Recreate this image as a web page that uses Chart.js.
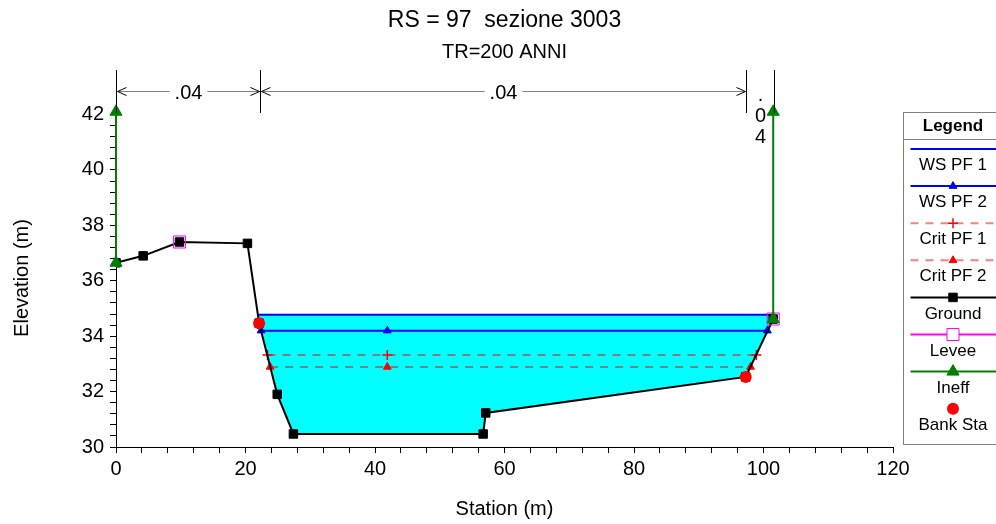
<!DOCTYPE html>
<html><head><meta charset="utf-8">
<script src="https://cdn.jsdelivr.net/npm/chart.js@4.4.0/dist/chart.umd.min.js"></script>
<style>html,body{margin:0;padding:0;background:#fff;}#wrap{width:996px;height:524px;position:relative;}</style>
</head><body><div id="wrap"><canvas id="c" width="996" height="524"></canvas></div>
<script>
// ---------------- data ----------------
const titleText = 'RS = 97  sezione 3003';
const subtitleText = 'TR=200 ANNI';
const xAxisTitle = 'Station (m)';
const yAxisTitle = 'Elevation (m)';

const groundStation = [0, 4.2, 9.8, 20.3, 22.1, 24.9, 27.4, 56.7, 57.1, 97.25, 101.5];
const groundElev    = [36.65, 36.9, 37.4, 37.35, 34.47, 31.9, 30.47, 30.47, 31.23, 32.53, 34.62];

const ws1Station = [21.85, 101.5];
const ws1Elev    = [34.77, 34.77];
const ws2Station = [22.4, 41.9, 100.6];
const ws2Elev    = [34.2, 34.2, 34.2];
const crit1Station = [23.4, 41.9, 98.9];
const crit1Elev    = [33.32, 33.32, 33.32];
const crit2Station = [23.8, 41.9, 98.0];
const crit2Elev    = [32.89, 32.89, 32.89];
const leveeStation = [9.8, 101.5];
const leveeElev    = [37.4, 34.62];
const ineffStation = [0, 0, 50, 101.5, 101.5];
const ineffElev    = [36.65, 42.1, null, 34.62, 42.1];
const bankStation  = [22.1, 97.25];
const bankElev     = [34.47, 32.53];

const nStations = [0, 22.2, 97.3, 101.6];
const nValues   = ['.04', '.04', '.04'];

const xTickLabels = [0, 20, 40, 60, 80, 100, 120];
const yTickLabels = [30, 32, 34, 36, 38, 40, 42];

// ---------------- helpers ----------------
const pts = (xs, ys) => xs.map((x, i) => ({x: x, y: ys[i]}));
const FONT = "'Liberation Sans', Arial, Helvetica, sans-serif";
Chart.defaults.font.family = FONT;
Chart.defaults.color = '#000';

const CRIT_COLOR = 'rgba(255,0,0,0.5)';

const datasets = [
  {label: 'WS PF 1', data: pts(ws1Station, ws1Elev), borderColor: '#0000ff', borderWidth: 2,
   pointRadius: 0, fill: {target: 4, above: '#00ffff', below: '#00ffff'}, backgroundColor: '#00ffff', order: 8},
  {label: 'WS PF 2', data: pts(ws2Station, ws2Elev), borderColor: '#0000ff', borderWidth: 2,
   pointStyle: 'triangle', pointRadius: 4.5, pointBackgroundColor: '#0000ff', pointBorderColor: '#0000ff', pointBorderWidth: 1, order: 7},
  {label: 'Crit PF 1', data: pts(crit1Station, crit1Elev), borderColor: CRIT_COLOR, borderWidth: 2, borderDash: [8, 7],
   pointStyle: 'cross', pointRadius: 5, pointBorderColor: '#ff0000', pointBackgroundColor: '#ff0000', pointBorderWidth: 1.5, order: 6},
  {label: 'Crit PF 2', data: pts(crit2Station, crit2Elev), borderColor: CRIT_COLOR, borderWidth: 2, borderDash: [8, 7],
   pointStyle: 'triangle', pointRadius: 4.5, pointBorderColor: '#ff0000', pointBackgroundColor: '#ff0000', pointBorderWidth: 1, order: 5},
  {label: 'Ground', data: pts(groundStation, groundElev), borderColor: '#000', borderWidth: 2,
   pointStyle: 'rect', pointRadius: 6, pointBackgroundColor: '#000', pointBorderColor: '#000', pointBorderWidth: 1, order: 4},
  {label: 'Levee', data: pts(leveeStation, leveeElev), showLine: false, borderColor: '#ff00ff', borderWidth: 2,
   pointStyle: 'rect', pointRadius: 8.5, pointBackgroundColor: 'rgba(0,0,0,0)', pointBorderColor: '#ff00ff', pointBorderWidth: 1, order: 3},
  {label: 'Ineff', data: pts(ineffStation, ineffElev), borderColor: '#008000', borderWidth: 2, spanGaps: false, clip: false,
   pointStyle: 'triangle', pointRadius: 7, pointBackgroundColor: '#008000', pointBorderColor: '#008000', pointBorderWidth: 1, order: 2},
  {label: 'Bank Sta', data: pts(bankStation, bankElev), showLine: false, borderColor: '#ff0000', borderWidth: 0,
   pointStyle: 'circle', pointRadius: 6, pointBackgroundColor: '#ff0000', pointBorderColor: '#ff0000', pointBorderWidth: 0, order: 1}
];

// ---------------- plugins ----------------
const nValuePlugin = {
  id: 'nValuePlugin',
  afterDraw(chart) {
    const {ctx, chartArea, scales: {x}} = chart;
    const top = chartArea.top - 39, bot = chartArea.top + 4, ay = chartArea.top - 18 + 0.5;
    const px = s => Math.round(x.getPixelForValue(s)) + 0.5;
    ctx.save();
    ctx.lineWidth = 1;
    ctx.strokeStyle = '#000';
    nStations.forEach(s => {
      ctx.beginPath(); ctx.moveTo(px(s), top); ctx.lineTo(px(s), bot); ctx.stroke();
    });
    ctx.font = '20px ' + FONT;
    ctx.fillStyle = '#000';
    ctx.textAlign = 'center';
    ctx.textBaseline = 'middle';
    for (let i = 0; i < nValues.length; i++) {
      const xl = px(nStations[i]), xr = px(nStations[i + 1]);
      const cx = (xl + xr) / 2;
      const w = ctx.measureText(nValues[i]).width;
      if (w + 24 < xr - xl) {
        ctx.strokeStyle = '#808080';
        ctx.beginPath();
        ctx.moveTo(xl + 1, ay); ctx.lineTo(cx - w / 2 - 5, ay);
        ctx.moveTo(cx + w / 2 + 5, ay); ctx.lineTo(xr - 1, ay);
        ctx.stroke();
        ctx.strokeStyle = '#000';
        ctx.beginPath();
        ctx.moveTo(xl + 10, ay - 4); ctx.lineTo(xl + 1, ay); ctx.lineTo(xl + 10, ay + 4);
        ctx.moveTo(xr - 10, ay - 4); ctx.lineTo(xr - 1, ay); ctx.lineTo(xr - 10, ay + 4);
        ctx.stroke();
        ctx.fillText(nValues[i], cx, ay + 2);
      } else {
        const chars = nValues[i].split('');
        chars.forEach((ch, k) => ctx.fillText(ch, cx, ay + 4 + k * 21));
      }
    }
    ctx.restore();
  }
};

const legendPlugin = {
  id: 'hecLegend',
  afterDraw(chart) {
    const {ctx, chartArea} = chart;
    const L = Math.round(chartArea.right) + 10.5, T = chartArea.top + 3.5, R = chart.width + 5, B = chartArea.bottom - 2.5;
    const cx = L + 49.5;
    ctx.save();
    ctx.strokeStyle = '#808080'; ctx.lineWidth = 1;
    ctx.strokeRect(L, T, R - L, B - T);
    ctx.beginPath(); ctx.moveTo(L, T + 27); ctx.lineTo(R, T + 27); ctx.stroke();
    ctx.fillStyle = '#000';
    ctx.textAlign = 'center'; ctx.textBaseline = 'middle';
    ctx.font = 'bold 17px ' + FONT;
    ctx.fillText('Legend', cx, T + 13.5);
    ctx.font = '17px ' + FONT;
    chart.data.datasets.forEach((ds, i) => {
      const y = T + 36.5 + i * 37.1;
      if (ds.borderWidth > 0) {
        ctx.save();
        ctx.strokeStyle = ds.borderColor; ctx.lineWidth = ds.borderWidth;
        ctx.setLineDash(ds.borderDash || []);
        ctx.beginPath(); ctx.moveTo(L + 7, y); ctx.lineTo(chart.width, y); ctx.stroke();
        ctx.restore();
      }
      if (ds.pointRadius) {
        ctx.save();
        ctx.fillStyle = ds.pointStyle === 'rect' && ds.label === 'Levee' ? '#ffffff' : ds.pointBackgroundColor;
        ctx.strokeStyle = ds.pointBorderColor;
        ctx.lineWidth = ds.pointBorderWidth || 0;
        Chart.helpers.drawPoint(ctx, {pointStyle: ds.pointStyle, radius: ds.pointRadius, rotation: 0, borderWidth: ds.pointBorderWidth || 0}, cx, y);
        ctx.restore();
      }
      ctx.fillStyle = '#000';
      ctx.fillText(ds.label, cx, y + 16.5);
    });
    ctx.restore();
  }
};

// ---------------- chart ----------------
new Chart(document.getElementById('c'), {
  type: 'line',
  data: {datasets: datasets},
  plugins: [nValuePlugin, legendPlugin],
  options: {
    responsive: false,
    animation: false,
    devicePixelRatio: 1,
    layout: {padding: {left: 0, right: 103, top: 0, bottom: 0}},
    plugins: {
      legend: {display: false},
      tooltip: {enabled: false},
      filler: {drawTime: 'beforeDatasetsDraw'},
      title: {display: true, text: titleText, fullSize: false, color: '#000',
        font: {size: 23, weight: 'normal'}, padding: {top: 7, bottom: 0}},
      subtitle: {display: true, text: subtitleText, fullSize: false, color: '#000',
        font: {size: 20, weight: 'normal'}, padding: {top: 5.4, bottom: 45}}
    },
    scales: {
      x: {
        type: 'linear', min: 0, max: 120,
        border: {display: true, color: '#000', width: 1},
        grid: {display: true, drawOnChartArea: false, drawTicks: true, tickLength: 6, color: '#000'},
        ticks: {stepSize: 4, autoSkip: false, maxRotation: 0, padding: 4, font: {size: 20}, color: '#000',
          callback: v => xTickLabels.includes(Math.round(v * 1000) / 1000) ? String(v) : ''},
        title: {display: true, text: xAxisTitle, font: {size: 20}, color: '#000', padding: {top: 0, bottom: 3}},
        afterFit: s => { s.height = 77; }
      },
      y: {
        type: 'linear', min: 30, max: 42.2,
        border: {display: true, color: '#000', width: 1},
        grid: {display: true, drawOnChartArea: false, drawTicks: true, tickLength: 6, color: '#000'},
        ticks: {stepSize: 0.4, includeBounds: false, autoSkip: false, padding: 6, font: {size: 20}, color: '#000',
          callback: v => yTickLabels.includes(Math.round(v * 1000) / 1000) ? String(Math.round(v)) : ''},
        title: {display: true, text: yAxisTitle, font: {size: 20}, color: '#000', padding: {top: 10, bottom: 0}},
        afterFit: s => { s.width = 116; }
      }
    }
  }
});
</script>
</body></html>
